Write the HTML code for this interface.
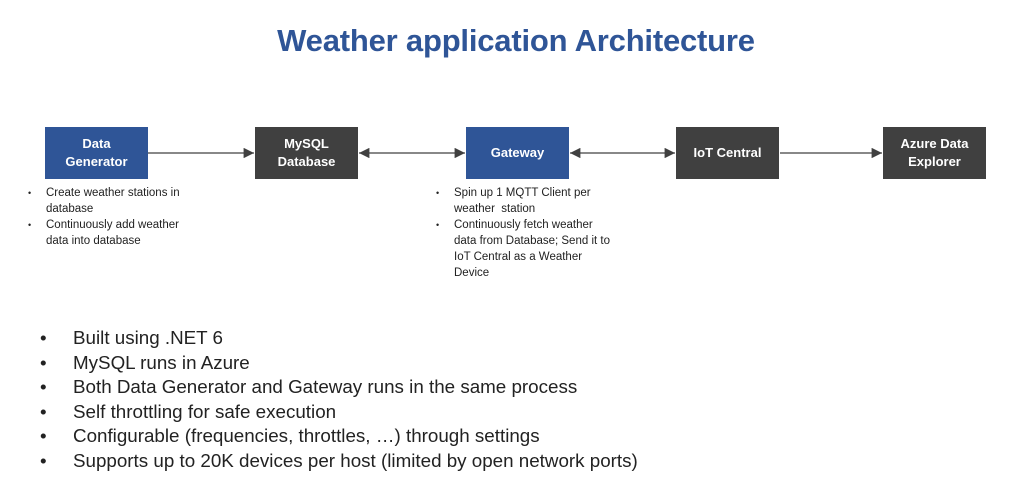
<!DOCTYPE html>
<html><head><style>
body{margin:0;width:1016px;height:494px;background:#fff;font-family:"Liberation Sans",sans-serif;position:relative;overflow:hidden}
.t{position:absolute;left:8px;width:1016px;top:23px;text-align:center;color:#2F5597;font-weight:bold;font-size:31px;letter-spacing:-0.2px}
.b{position:absolute;top:127px;width:103px;height:52px;color:#fff;font-weight:bold;font-size:13px;display:flex;align-items:center;justify-content:center;text-align:center;line-height:18px}
.blue{background:#2F5597}.dark{background:#404040}
.s{position:absolute;font-size:11.5px;line-height:16px;color:#222;margin:0;padding:0;list-style:none;white-space:nowrap}
.s li{position:relative;padding-left:20px}
.s li:before{content:"•";position:absolute;left:2px;font-size:9px}
.L{position:absolute;left:40px;top:326px;font-size:18.8px;line-height:24.6px;color:#222;list-style:none;margin:0;padding:0;white-space:nowrap}
.L li{position:relative;padding-left:33px}
.L li:before{content:"•";position:absolute;left:0}
</style></head><body>
<div class="t">Weather application Architecture</div>
<svg width="1016" height="494" style="position:absolute;left:0;top:0">
<defs><marker id="a" markerWidth="8" markerHeight="8" refX="8" refY="4" orient="auto-start-reverse"><path d="M0,0L8,4L0,8z" fill="#404040"/></marker></defs>
<g stroke="#404040" stroke-width="1.3">
<line x1="148" y1="153" x2="254" y2="153" marker-end="url(#a)"/>
<line x1="359" y1="153" x2="465" y2="153" marker-start="url(#a)" marker-end="url(#a)"/>
<line x1="570" y1="153" x2="675" y2="153" marker-start="url(#a)" marker-end="url(#a)"/>
<line x1="780" y1="153" x2="882" y2="153" marker-end="url(#a)"/>
</g></svg>
<div class="b blue" style="left:45px">Data<br>Generator</div>
<div class="b dark" style="left:255px">MySQL<br>Database</div>
<div class="b blue" style="left:466px">Gateway</div>
<div class="b dark" style="left:676px">IoT Central</div>
<div class="b dark" style="left:883px">Azure Data<br>Explorer</div>
<ul class="s" style="left:26px;top:185px"><li>Create weather stations in<br>database</li><li>Continuously add weather<br>data into database</li></ul>
<ul class="s" style="left:434px;top:185px"><li>Spin up 1 MQTT Client per<br>weather&nbsp; station</li><li>Continuously fetch weather<br>data from Database; Send it to<br>IoT Central as a Weather<br>Device</li></ul>
<ul class="L">
<li>Built using .NET 6</li>
<li>MySQL runs in Azure</li>
<li>Both Data Generator and Gateway runs in the same process</li>
<li>Self throttling for safe execution</li>
<li>Configurable (frequencies, throttles, …) through settings</li>
<li>Supports up to 20K devices per host (limited by open network ports)</li>
</ul>
</body></html>
